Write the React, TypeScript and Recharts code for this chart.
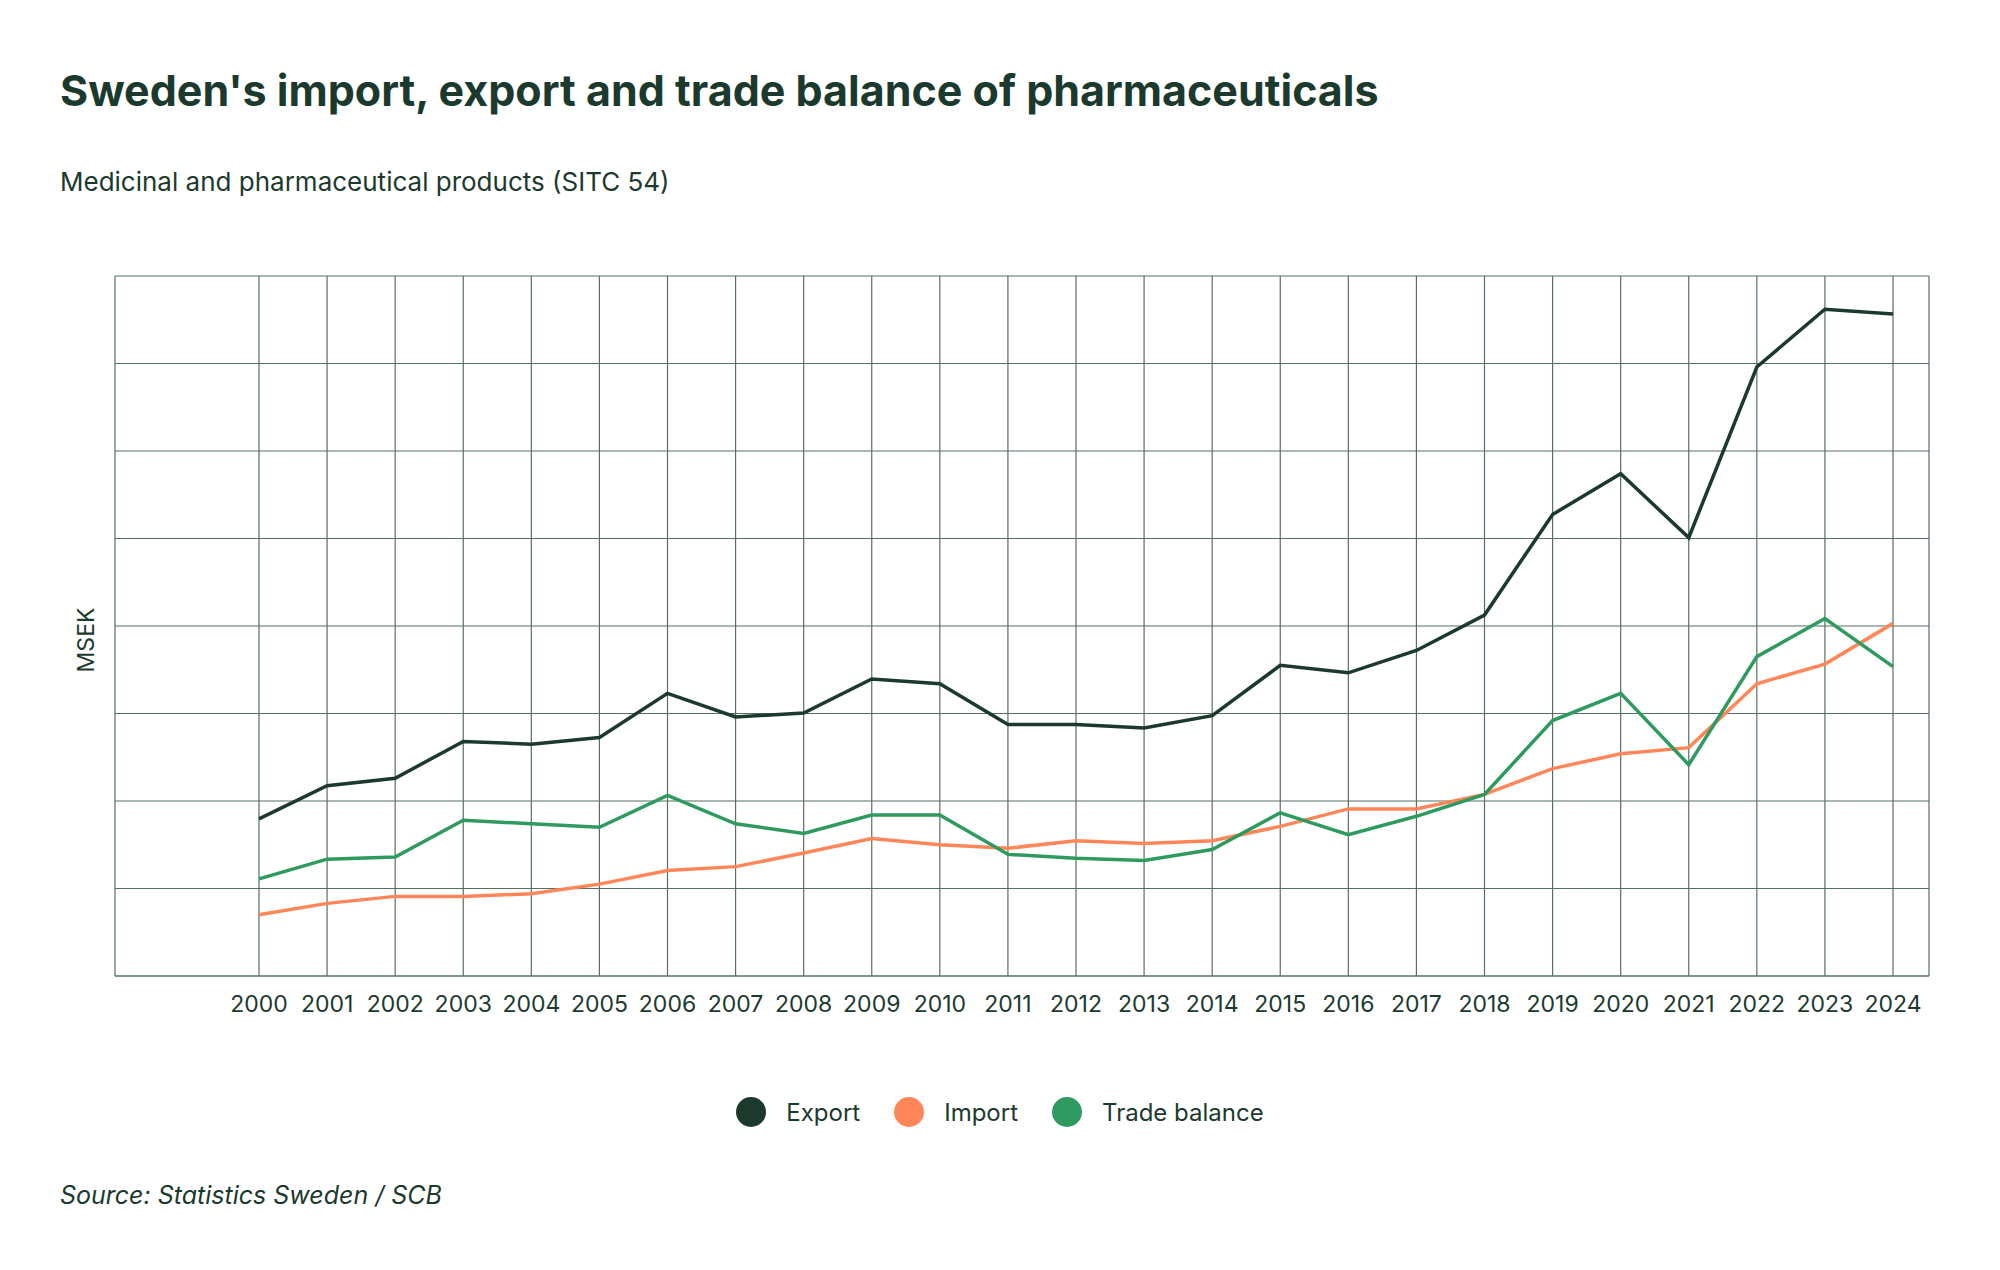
import { LineChart, Line, XAxis, YAxis, CartesianGrid } from "recharts";

const years = ["2000","2001","2002","2003","2004","2005","2006","2007","2008","2009","2010","2011","2012","2013","2014","2015","2016","2017","2018","2019","2020","2021","2022","2023","2024"];
const exportValues = [35900,43500,45200,53600,53000,54500,64600,59200,60100,67900,66800,57500,57500,56700,59500,71000,69300,74400,82500,105500,114800,100200,139200,152400,151300];
const importValues = [14000,16600,18200,18200,18800,21000,24100,25000,28100,31400,30000,29200,30900,30300,30900,34200,38200,38200,41500,47400,50800,52200,66800,71300,80600];
const balanceValues = [22200,26700,27200,35600,34800,34000,41300,34800,32600,36800,36800,27800,26900,26400,28900,37300,32300,36500,41500,58400,64600,48300,73000,81700,70700];
const yTicks = [0,20000,40000,60000,80000,100000,120000,140000,160000];

const data = years.map((year, i) => ({
  year,
  exp: exportValues[i],
  imp: importValues[i],
  bal: balanceValues[i],
}));

const ink = "#1b3a2d";
const gridColor = "#56705f";
const colors = { exp: "#1b3a2d", imp: "#ff8659", bal: "#2f9a5f" };
const font = "Inter, 'Open Sans', sans-serif";

const fmt = (v: number) => String(v).replace(/\B(?=(\d{3})+(?!\d))/g, " ");

const YTick = ({ y, payload }: any) => (
  <text x={115} y={y - 10} fill={ink} fontSize={23} fontFamily={font}>
    {fmt(payload.value)}
  </text>
);

export default function App() {
  const legend = [
    { key: "exp", label: "Export" },
    { key: "imp", label: "Import" },
    { key: "bal", label: "Trade balance" },
  ] as const;

  return (
    <div style={{ position: "relative", width: 2000, height: 1270, margin: -8, background: "#fff", fontFamily: font, color: ink }}>
      <div style={{ position: "absolute", left: 60, top: 64, fontSize: 43, fontWeight: 700 }}>
        Sweden's import, export and trade balance of pharmaceuticals
      </div>
      <div style={{ position: "absolute", left: 60, top: 166, fontSize: 26 }}>
        Medicinal and pharmaceutical products (SITC 54)
      </div>
      <div style={{ position: "absolute", left: 60, top: 0 }}>
        <svg width={60} height={1270} style={{ position: "absolute", left: 0, top: 0 }}>
          <text transform="translate(34,640) rotate(-90)" textAnchor="middle" fill={ink} fontSize={23} fontFamily={font}>MSEK</text>
        </svg>
      </div>
      <div style={{ position: "absolute", left: 0, top: 0 }}>
        <LineChart width={2000} height={1100} data={data} margin={{ top: 276, left: 115, right: 71, bottom: 94 }}>
          <CartesianGrid stroke={gridColor} strokeWidth={1.2} />
          <XAxis
            dataKey="year"
            padding={{ left: 144, right: 36 }}
            axisLine={{ stroke: gridColor }}
            tickLine={false}
            interval={0}
            tick={{ fill: ink, fontSize: 23, fontFamily: font }}
            tickMargin={14}
          />
          <YAxis width={0} domain={[0, 160000]} ticks={yTicks} axisLine={false} tickLine={false} tick={<YTick />} />
          <Line dataKey="exp" stroke={colors.exp} strokeWidth={3.5} dot={false} isAnimationActive={false} />
          <Line dataKey="imp" stroke={colors.imp} strokeWidth={3.5} dot={false} isAnimationActive={false} />
          <Line dataKey="bal" stroke={colors.bal} strokeWidth={3.5} dot={false} isAnimationActive={false} />
        </LineChart>
      </div>
      <div style={{ position: "absolute", top: 1097, left: 0, width: 2000, display: "flex", justifyContent: "center", paddingLeft: 0, fontSize: 24 }}>
        <div style={{ display: "flex", gap: 34, marginLeft: 0 }}>
          {legend.map((l) => (
            <div key={l.key} style={{ display: "flex", alignItems: "center", gap: 20 }}>
              <span style={{ width: 30, height: 30, borderRadius: 15, background: colors[l.key], display: "inline-block" }} />
              <span>{l.label}</span>
            </div>
          ))}
        </div>
      </div>
      <div style={{ position: "absolute", left: 60, top: 1180, fontSize: 25, fontStyle: "italic" }}>
        Source: Statistics Sweden / SCB
      </div>
    </div>
  );
}
